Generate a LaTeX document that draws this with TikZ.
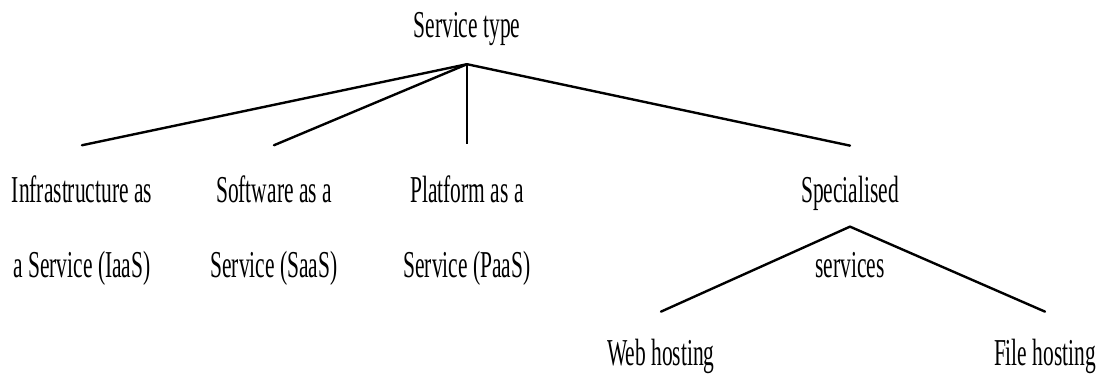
\documentclass[tikz,border=0pt]{standalone}
\usepackage{fontspec}
\setmainfont{Liberation Serif}[FakeStretch=0.565]
\usetikzlibrary{calc}
\begin{document}
\begin{tikzpicture}[x=1pt,y=-1pt,
  lbl/.style={inner sep=0pt, outer sep=0pt, align=center,
    font=\fontsize{38}{75}\selectfont, anchor=base},
  branch/.style={line width=2.4pt, line cap=round, line join=round},
  stem/.style={line width=1.1pt}]
\useasboundingbox (0,0) rectangle (1101,383);

% labels (positions are the baselines of the last lines)
\node[lbl] (root) at (467,37) {Service type};
\node[lbl] (iaas) at (82,277) {Infrastructure as\\a Service (IaaS)};
\node[lbl] (saas) at (274,277) {Software as a\\Service (SaaS)};
\node[lbl] (paas) at (467,277) {Platform as a\\Service (PaaS)};
\node[lbl] (spec) at (850,277) {Specialised\\services};
\node[lbl] (web)  at (661,365) {Web hosting};
\node[lbl] (file) at (1045,365) {File hosting};

% first level of the tree
\coordinate (hub) at ($(root.south)+(0,19)$);
\draw[branch] (hub) -- ($(iaas.north)+(0,-30)$);
\draw[branch] (hub) -- ($(saas.north)+(0,-30)$);
\draw[stem]   (hub) -- ($(paas.north)+(0,-31)$);
\draw[branch] (hub) -- ($(spec.north)+(0,-30)$);

% second level, below the specialised services
\coordinate (subhub) at ($(spec.north)+(0,51)$);
\draw[branch] (subhub) -- ($(web.north)+(0,-27)$);
\draw[branch] (subhub) -- ($(file.north)+(0,-27)$);
\end{tikzpicture}
\end{document}
